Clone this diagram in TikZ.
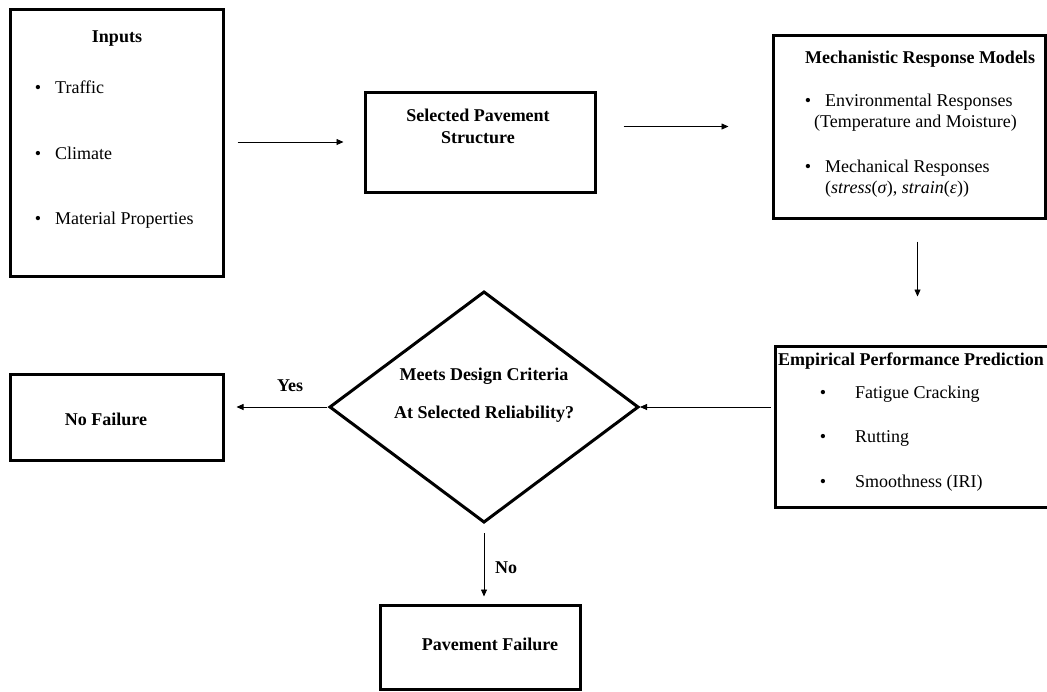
\documentclass[tikz,border=0pt]{standalone}
\usepackage{fontspec}
\setmainfont{Liberation Serif}
\usetikzlibrary{arrows.meta,calc}
\begin{document}
\begin{tikzpicture}[x=1pt,y=-1pt,
  box/.style={draw=black,line width=3pt,minimum width=#1,inner sep=0pt},
  conn/.style={line width=0.8pt,-{Triangle[length=7pt,width=6pt]}},
  ttl/.style={font=\fontsize{18}{22}\selectfont\bfseries},
  txt/.style={font=\fontsize{18}{22}\selectfont,anchor=base west,inner sep=0pt},
  bul/.style={font=\fontsize{18}{22}\selectfont,anchor=base,inner sep=0pt}]
\useasboundingbox (0,0) rectangle (1047,691);
\begin{scope}
\clip (0,0) rectangle (1047,691);
% Inputs
\node[box=213pt,minimum height=267pt] (inputs) at (116.5,142.5) {};
\node[ttl] (inT) at (117,39) {Inputs};
\node[bul] (b1) at (38,93) {•};
\node[txt] (t1) at (55,93) {Traffic};
\node[bul] (b2) at (38,159) {•};
\node[txt] (t2) at (55,159) {Climate};
\node[bul] (b3) at (38,224) {•};
\node[txt] (t3) at (55,224) {Material Properties};
% Selected pavement structure
\node[box=230pt,minimum height=100pt] (sps) at (480,142) {};
\node[ttl,align=center] (spsT) at (478,126) {Selected Pavement\\Structure};
% Mechanistic response models
\node[box=272pt,minimum height=183pt] (mrm) at (909,126.5) {};
\node[ttl] (mrmT) at (920,59) {Mechanistic Response Models};
\node[bul] (m1) at (808,106) {•};
\node[txt] (mt1) at (825,106) {Environmental Responses};
\node[txt] (mt1b) at (814,127) {(Temperature and Moisture)};
\node[bul] (m2) at (808,172) {•};
\node[txt] (mt2) at (825,172) {Mechanical Responses};
\node[txt] (mt2b) at (825,193) {(\textit{stress}(\textit{σ}), \textit{strain}(\textit{ε}))};
% Empirical performance prediction
\node[box=285pt,minimum height=161pt] (epp) at (917.5,426.5) {};
\node[ttl,anchor=base west,inner sep=0pt] (eppT) at (778,365) {Empirical Performance Prediction};
\node[bul] (e1) at (823,398) {•};
\node[txt] (et1) at (855,398) {Fatigue Cracking};
\node[bul] (e2) at (823,442) {•};
\node[txt] (et2) at (855,442) {Rutting};
\node[bul] (e3) at (823,487) {•};
\node[txt] (et3) at (855,487) {Smoothness (IRI)};
% Diamond
\coordinate (dT) at (484,292);
\coordinate (dR) at (638,407);
\coordinate (dB) at (484,522);
\coordinate (dL) at (330,407);
\draw[line width=3pt,line join=miter] (dT) -- (dR) -- (dB) -- (dL) -- cycle;
\node[ttl] (dt1) at (484,376) {Meets Design Criteria};
\node[ttl] (dt2) at (484,414) {At Selected Reliability?};
% No failure
\node[box=213pt,minimum height=86pt] (nf) at (116.5,417) {};
\node[ttl] (nfT) at (106,419) {No Failure};
% Pavement failure
\node[box=200pt,minimum height=84pt] (pf) at (480,647) {};
\node[ttl] (pfT) at (490,644) {Pavement Failure};
% connectors
\draw[conn,shorten <=13pt,shorten >=20pt] (inputs.east |- sps.west) -- (sps.west);
\draw[conn,shorten <=27pt,shorten >=43pt] (sps.east |- mrm.west) -- (mrm.west);
\draw[conn,shorten <=22pt,shorten >=48pt] (epp.north |- mrm.south) -- (epp.north);
\draw[conn,shorten <=3pt,shorten >=2pt] (epp.west |- dR) -- (dR);
\draw[conn,shorten <=3pt,shorten >=12pt] (dL) -- (nf.east |- dL);
\draw[conn,shorten <=11pt,shorten >=7pt] (dB) -- (pf.north -| dB);
\node[ttl] (yes) at (290,386) {Yes};
\node[ttl] (no) at (506,568) {No};
\end{scope}
\end{tikzpicture}
\end{document}
